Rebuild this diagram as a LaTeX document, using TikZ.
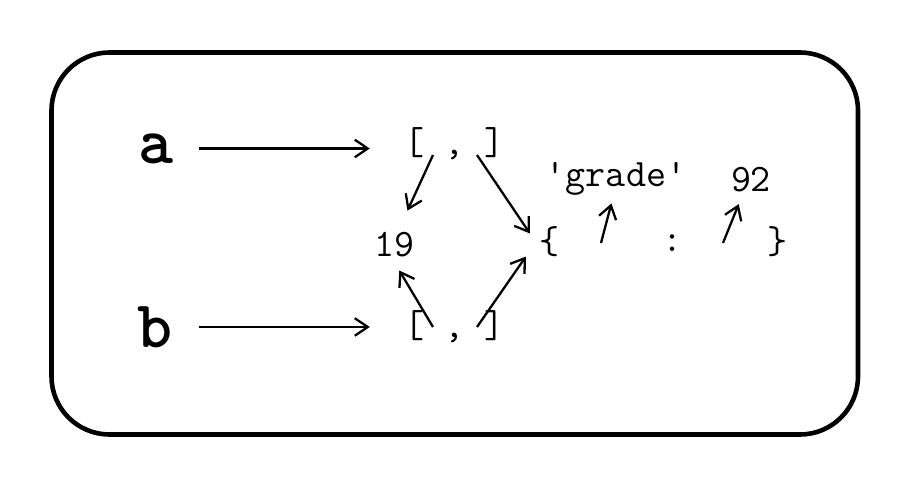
\documentclass[tikz,border=0pt]{standalone}
\usepackage{fontspec}
\usetikzlibrary{arrows.meta}

\begin{document}
\begin{tikzpicture}[
  x=0.1mm, y=-0.1mm,
  >={Straight Barb[length=3.7pt,width=5pt]},
  line width=0.65pt,
  txt/.style={inner sep=0pt,font=\fontsize{11.06}{13}\selectfont\ttfamily},
  var/.style={inner sep=0pt,font=\fontsize{19}{21}\selectfont\ttfamily\bfseries}]
\useasboundingbox (0,0) rectangle (902,496);
\node[draw,line width=1.3pt,rounded corners=5.8mm,minimum width=8.065cm,minimum height=3.82cm] (frame) at (454.75,243.5) {};
\node[var] (a) at (156,148.5) {a};
\node[var] (b) at (155.5,327) {b};
\node[txt] (lista) at (455,144) {[ , ]};
\node[txt] (listb) at (455,327) {[ , ]};
\node[txt] (n19) at (394,245) {19};
\node[txt] (dict) at (550,241.5) {\{};
\node[txt] (colon) at (673,243) {:};
\node[txt] (rdict) at (778,241.5) {\}};
\node[txt] (grade) at (616,179) {'grade'};
\node[txt] (n92) at (751,179.5) {92};

\coordinate (lista1) at (433,155);
\coordinate (lista2) at (477,155);
\coordinate (listb1) at (433,327);
\coordinate (listb2) at (477,327);
\coordinate (key) at (601,243);
\coordinate (value) at (723,243);

\draw[->,shorten <=2.46mm,shorten >=3.4mm] (a) -- (a -| lista.west);
\draw[->,shorten <=2.46mm,shorten >=3.4mm] (b) -- (b -| listb.west);

\draw[->,shorten >=2.3mm] (lista1) -- (n19.74);
\draw[->,shorten >=1.6mm] (lista2) -- (dict.-155);
\draw[->,shorten >=1.4mm] (listb1) -- (n19.-98);
\draw[->,shorten >=2.27mm] (listb2) -- (dict.162);
\draw[->,shorten >=0.7mm] (key) -- (grade.-99);
\draw[->,shorten >=1.2mm] (value) -- (n92.-120);
\end{tikzpicture}
\end{document}
